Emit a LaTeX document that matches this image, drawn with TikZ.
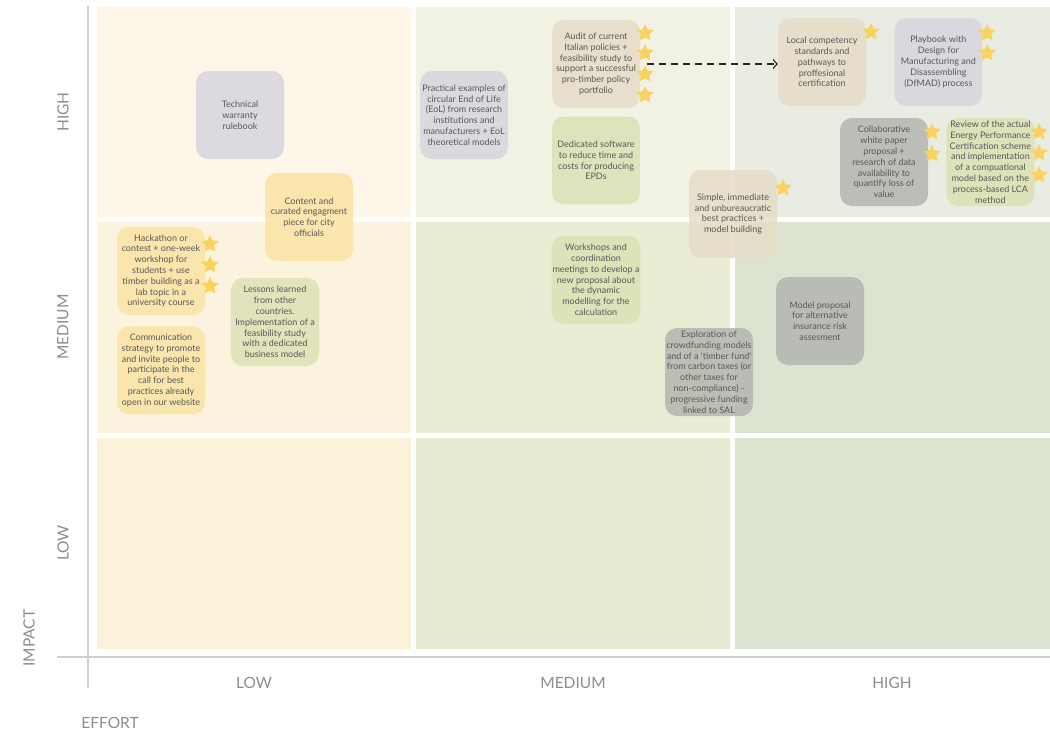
\documentclass[tikz,border=0pt]{standalone}
\usepackage{fontspec}
\setmainfont{Lato}
\usetikzlibrary{shapes.geometric,arrows.meta,positioning}
\definecolor{cellA}{HTML}{FDF6E9}
\definecolor{cellB}{HTML}{F1F2E3}
\definecolor{cellC}{HTML}{E9ECE2}
\definecolor{cellD}{HTML}{FCF3DF}
\definecolor{cellE}{HTML}{EAEDD4}
\definecolor{cellF}{HTML}{DCE3D1}
\definecolor{cellG}{HTML}{FCF2D9}
\definecolor{cellH}{HTML}{E7EBD2}
\definecolor{lavender}{HTML}{D8D5DF}
\definecolor{sand}{HTML}{FAE3A4}
\definecolor{olive}{HTML}{DDE1B4}
\definecolor{beige}{HTML}{E6DCC7}
\definecolor{slate}{HTML}{B3B6AF}
\definecolor{gold}{HTML}{F9D35E}
\definecolor{notetext}{HTML}{585858}
\definecolor{axislabel}{HTML}{8C8C8C}
\definecolor{axisline}{HTML}{CFCFCF}
\begin{document}
\begin{tikzpicture}[x=1pt, y=-1pt,
  note/.style = {rounded corners=12pt, fill opacity=0.85, text opacity=1, minimum width=88pt, minimum height=88pt, inner sep=1pt, align=center, text=notetext, font=\fontsize{9}{10.8}\selectfont},
  starmark/.style = {star, star points=5, star point ratio=2.0, minimum size=18pt, inner sep=0pt, fill=gold},
  level/.style = {text=axislabel, font=\fontsize{15.5}{18}\selectfont}]
\useasboundingbox (0,0) rectangle (1050,734);

\fill[cellA] (97,7) rectangle (411,217);
\fill[cellB] (416,7) rectangle (730,217);
\fill[cellC] (735,7) rectangle (1050,217);
\fill[cellD] (97,222) rectangle (411,433);
\fill[cellE] (416,222) rectangle (730,433);
\fill[cellF] (735,222) rectangle (1050,433);
\fill[cellG] (97,438) rectangle (411,649);
\fill[cellH] (416,438) rectangle (730,649);
\fill[cellF] (735,438) rectangle (1050,649);

\draw[axisline, line width=2.5pt] (57,657) -- (1050,657);
\draw[axisline, line width=2.5pt] (88,6) -- (88,688);

\node[level, rotate=90] (yhigh) at (63,112) {HIGH};
\node[level, rotate=90] (ymed) at (63,327) {MEDIUM};
\node[level, rotate=90] (ylow) at (63,543) {LOW};
\node[level, rotate=90] (impact) at (29,638) {IMPACT};
\node[level] (xlow) at (254,683) {LOW};
\node[level] (xmed) at (573,683) {MEDIUM};
\node[level] (xhigh) at (892,683) {HIGH};
\node[level] (effort) at (110,723) {EFFORT};

\node[note, fill=lavender] (1) at (240,115) {Technical\\warranty\\rulebook};
\node[note, fill=sand] (2) at (309,217) {Content and\\curated engagment\\piece for city\\officials};
\node[note, fill=sand] (3) at (161,271) {Hackathon or\\contest + one-week\\workshop for\\students + use\\timber building as a\\lab topic in a\\university course};
\node[note, fill=sand] (4) [below=11pt of 3] {Communication\\strategy to promote\\and invite people to\\participate in the\\call for best\\practices already\\open in our website};
\node[note, fill=olive] (5) at (275,322) {Lessons learned\\from other\\countries.\\Implementation of a\\feasibility study\\with a dedicated\\business model};
\node[note, fill=lavender] (6) at (464,115) {Practical examples of\\circular End of Life\\(EoL) from research\\institutions and\\manufacturers + EoL\\theoretical models};
\node[note, fill=beige] (7) at (596,64) {Audit of current\\Italian policies +\\feasibility study to\\support a successful\\pro-timber policy\\portfolio};
\node[note, fill=olive] (8) [below=8pt of 7] {Dedicated software\\to reduce time and\\costs for producing\\EPDs};
\node[note, fill=olive] (9) [below=31pt of 8] {Workshops and\\coordination\\meetings to develop a\\new proposal about\\the dynamic\\modelling for the\\calculation};
\node[note, fill=beige] (10) at (733,214) {Simple, immediate\\and unbureaucratic\\best practices +\\model building};
\node[note, fill=slate] (11) at (709,372) {Exploration of\\crowdfunding models\\and of a \textquotesingle timber fund\textquotesingle\\from carbon taxes (or\\other taxes for\\non-compliance) -\\progressive funding\\linked to SAL};
\node[note, fill=slate] (12) at (820,321) {Model proposal\\for alternative\\insurance risk\\assesment};
\node[note, fill=beige] (13) at (822,62) {Local competency\\standards and\\pathways to\\proffesional\\certification};
\node[note, fill=lavender] (14) [right=28pt of 13] {Playbook with\\Design for\\Manufacturing and\\Disassembling\\(DfMAD) process};
\node[note, fill=slate] (15) at (884,162) {Collaborative\\white paper\\proposal +\\research of data\\availability to\\quantify loss of\\value};
\node[note, fill=olive] (16) [right=18pt of 15] {Review of the actual\\Energy Performance\\Certification scheme\\and implementation\\of a compuational\\model based on the\\process-based LCA\\method};

\draw[dashed, dash pattern=on 7pt off 5pt, line width=1.1pt, black!85, -{Straight Barb[length=4pt, width=9pt]}] ([xshift=7pt]7.east) -- (7.east -| 13.west);

\node[starmark] (3a) at (210,244) {};
\node[starmark] (3b) at (210,265) {};
\node[starmark] (3c) at (210,286) {};
\node[starmark] (7a) at (645,33) {};
\node[starmark] (7b) at (645,53) {};
\node[starmark] (7c) at (645,74) {};
\node[starmark] (7d) at (645,95) {};
\node[starmark] (13a) at (871,32) {};
\node[starmark] (14a) at (987,33) {};
\node[starmark] (14b) at (987,53) {};
\node[starmark] (15a) at (932,132) {};
\node[starmark] (15b) at (932,154) {};
\node[starmark] (16a) at (1039,132) {};
\node[starmark] (16b) at (1039,153) {};
\node[starmark] (16c) at (1039,175) {};
\node[starmark] (10a) at (783,188) {};
\end{tikzpicture}
\end{document}
